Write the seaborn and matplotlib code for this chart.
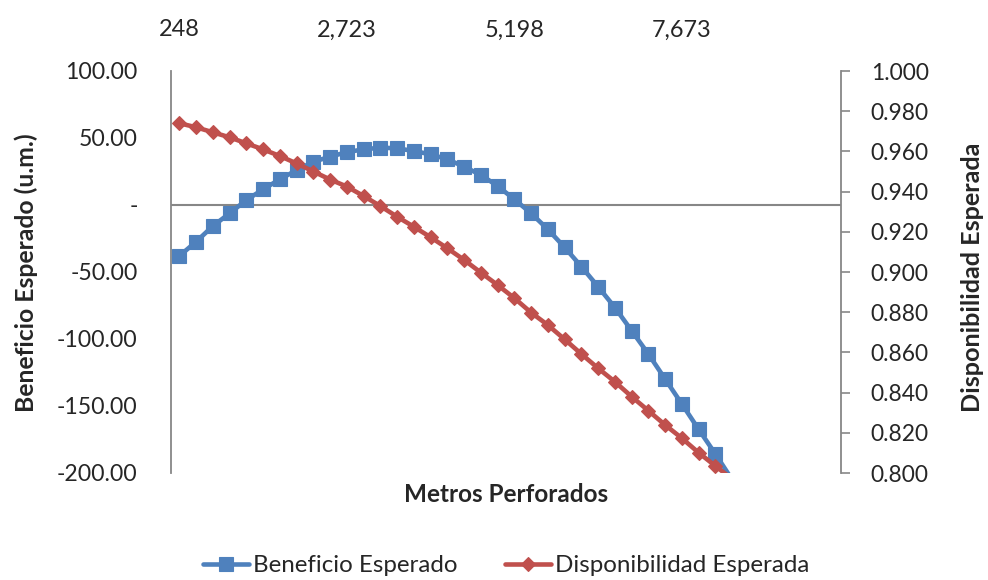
import matplotlib
matplotlib.use("Agg")
import matplotlib.pyplot as plt
import seaborn as sns
import pandas as pd

# Drilled metres (category axis) and the two expected-value series
metros = [247.5, 495.0, 742.5, 990.0, 1237.5, 1485.0, 1732.5, 1980.0, 2227.5, 2475.0,
          2722.5, 2970.0, 3217.5, 3465.0, 3712.5, 3960.0, 4207.5, 4455.0, 4702.5, 4950.0,
          5197.5, 5445.0, 5692.5, 5940.0, 6187.5, 6435.0, 6682.5, 6930.0, 7177.5, 7425.0,
          7672.5, 7920.0, 8167.5, 8415.0]
beneficio = [-38.0, -27.4, -15.7, -6.2, 3.7, 11.7, 19.2, 26.0, 32.3, 36.0,
             39.5, 41.5, 42.8, 42.3, 40.3, 37.8, 34.1, 28.6, 22.4, 14.2,
             4.2, -6.2, -18.2, -31.6, -46.0, -61.0, -76.5, -93.8, -111.2, -129.9,
             -148.5, -167.4, -185.8, -205.0]
disponibilidad = [0.974, 0.972, 0.9695, 0.967, 0.964, 0.961, 0.9577, 0.954, 0.950, 0.946,
                  0.9425, 0.9378, 0.9328, 0.9275, 0.9225, 0.9173, 0.9118, 0.906, 0.8997, 0.8935,
                  0.887, 0.8798, 0.8736, 0.8665, 0.8592, 0.8521, 0.8454, 0.838, 0.831, 0.8239,
                  0.8173, 0.8101, 0.8035, 0.797]
n_categorias = 40
x_ticks = [0, 10, 20, 30]
x_ticklabels = ["248", "2,723", "5,198", "7,673"]
left_ticks = [100, 50, 0, -50, -100, -150, -200]
left_ticklabels = ["100.00", "50.00", "-", "-50.00", "-100.00", "-150.00", "-200.00"]
right_ticks = [1.0, 0.98, 0.96, 0.94, 0.92, 0.90, 0.88, 0.86, 0.84, 0.82, 0.80]
right_ticklabels = ["1.000", "0.980", "0.960", "0.940", "0.920", "0.900",
                    "0.880", "0.860", "0.840", "0.820", "0.800"]

sns.set_theme(style="white")
plt.rcParams["font.family"] = ["Lato", "DejaVu Sans"]

BLUE = "#4F81BD"
RED = "#C0504D"
GRAY = "#878787"

fig = plt.figure(figsize=(9.88, 5.8), dpi=100)
renderer = fig.canvas.get_renderer()


def size_for_width(s, width_px, weight="normal", base=16.0):
    """Font size (pt) at which string s renders width_px pixels wide."""
    t = fig.text(0, 0, s, fontsize=base, fontweight=weight)
    w = t.get_window_extent(renderer).width
    t.remove()
    return base * width_px / w


FS_LEFT = size_for_width("100.00", 72)
FS_TOP = size_for_width("2,723", 60)
FS_RIGHT = size_for_width("1.000", 58)
FS_XT = size_for_width("Metros Perforados", 205, "bold")
FS_YL = size_for_width("Beneficio Esperado (u.m.)", 280, "bold")
FS_YR = size_for_width("Disponibilidad Esperada", 271, "bold")
FS_LEG = size_for_width("Disponibilidad Esperada", 256)

df = pd.DataFrame({"idx": range(len(metros)), "metros": metros,
                   "beneficio": beneficio, "disponibilidad": disponibilidad})

ax = fig.add_axes([171 / 988, 1 - 473 / 580, 670 / 988, 402 / 580])
ax2 = ax.twinx()

ax.axhline(0, color=GRAY, lw=1.5, zorder=1)

visible = list(range(len(metros) - 1))
sns.lineplot(data=df, x="idx", y="beneficio", ax=ax, color=BLUE, lw=3.3,
             marker="s", markersize=10, markeredgewidth=0.8, markeredgecolor=BLUE,
             markevery=visible, label="Beneficio Esperado", legend=False, zorder=3)
sns.lineplot(data=df, x="idx", y="disponibilidad", ax=ax2, color=RED, lw=3.3,
             marker="D", markersize=7, markeredgewidth=0.8, markeredgecolor=RED,
             markevery=visible, label="Disponibilidad Esperada", legend=False, zorder=3)

ax.set_xlim(-0.5, n_categorias - 0.5)
ax.set_ylim(-200, 100)
ax2.set_ylim(0.8, 1.0)

ax.xaxis.tick_top()
ax.set_xticks(x_ticks)
ax.set_xticklabels(x_ticklabels, fontsize=FS_TOP)
ax.tick_params(axis="x", length=0, pad=22)
ax.set_yticks(left_ticks)
ax.set_yticklabels(left_ticklabels, fontsize=FS_LEFT)
ax.tick_params(axis="y", length=0, pad=24, left=False)
ax2.set_yticks(right_ticks)
ax2.set_yticklabels(right_ticklabels, fontsize=FS_RIGHT)
ax2.tick_params(axis="y", right=True, direction="out", length=6.5, width=1.2,
                color=GRAY, pad=15)

ax.set_xlabel("")
ax.set_ylabel("")
ax2.set_ylabel("")
ax.grid(False)
ax2.grid(False)

for a in (ax, ax2):
    for s in ("top", "bottom"):
        a.spines[s].set_visible(False)
ax.spines["right"].set_visible(False)
ax2.spines["left"].set_visible(False)
ax.spines["left"].set_color(GRAY)
ax.spines["left"].set_linewidth(1.3)
ax2.spines["right"].set_color(GRAY)
ax2.spines["right"].set_linewidth(1.3)

fig.text(506 / 988, 1 - 495 / 580, "Metros Perforados", ha="center", va="center",
         fontsize=FS_XT, fontweight="bold")
fig.text(26 / 988, 1 - 273 / 580, "Beneficio Esperado (u.m.)", ha="center", va="center",
         rotation=90, fontsize=FS_YL, fontweight="bold")
fig.text(972 / 988, 1 - 277 / 580, "Disponibilidad Esperada", ha="center", va="center",
         rotation=90, fontsize=FS_YR, fontweight="bold")

leg_px = FS_LEG * 100 / 72
h1, l1 = ax.get_legend_handles_labels()
h2, l2 = ax2.get_legend_handles_labels()
fig.legend(h1 + h2, l1 + l2, loc="center", bbox_to_anchor=(506 / 988, 1 - 566 / 580),
           ncol=2, frameon=False, fontsize=FS_LEG, handlelength=46 / leg_px,
           handletextpad=4 / leg_px, columnspacing=48 / leg_px, borderaxespad=0)

fig.savefig("out.png", dpi=100)
